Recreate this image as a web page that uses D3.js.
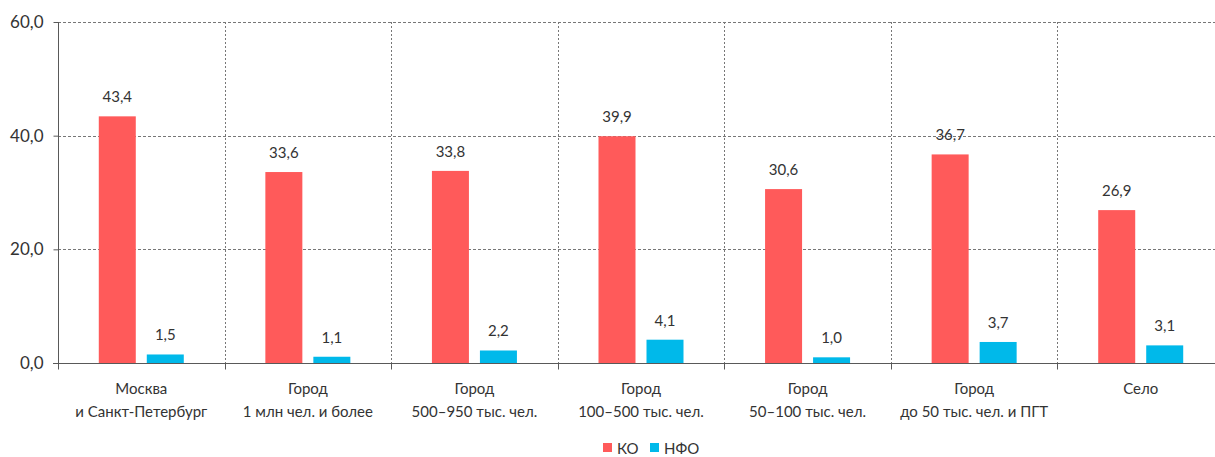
<!DOCTYPE html>
<html>
<head>
<meta charset="utf-8">
<script src="https://cdn.jsdelivr.net/npm/d3@7"></script>
<style>
  body { margin: 0; background: #fff; }
  svg text { font-family: "Lato", "Open Sans", sans-serif; fill: #333; }
</style>
</head>
<body>
<script>
var categories = [
  ["Москва", "и Санкт-Петербург"],
  ["Город", "1 млн чел. и более"],
  ["Город", "500–950 тыс. чел."],
  ["Город", "100–500 тыс. чел."],
  ["Город", "50–100 тыс. чел."],
  ["Город", "до 50 тыс. чел. и ПГТ"],
  ["Село"]
];
var ko  = [43.4, 33.6, 33.8, 39.9, 30.6, 36.7, 26.9];
var nfo = [1.5, 1.1, 2.2, 4.1, 1.0, 3.7, 3.1];
var seriesNames = ["КО", "НФО"];
var colors = ["#ff5a5a", "#00b9ea"];
var yTicks = [0, 20, 40, 60];

var width = 1215,
    height = 457,
    mLeft = 58,
    mRight = 1224,
    mTop = 22,
    mBottom = 363;

var fmt = function(v) { return v.toFixed(1).replace(".", ","); };

var xSc = d3.scaleBand()
  .domain(d3.range(categories.length))
  .range([mLeft, mRight]);

var ySc = d3.scaleLinear()
  .domain([0, 60])
  .range([mBottom, mTop]);

var svg = d3.select("body").append("svg")
  .attr("width", width)
  .attr("height", height);

// horizontal dashed grid
svg.selectAll("line.hgrid")
  .data(yTicks.filter(function(d) { return d > 0; }))
  .enter()
    .append("line")
    .attr("class", "hgrid")
    .attr("x1", mLeft).attr("x2", mRight)
    .attr("y1", function(d) { return Math.round(ySc(d)) + 0.5; })
    .attr("y2", function(d) { return Math.round(ySc(d)) + 0.5; })
    .style("stroke", "#777")
    .style("stroke-width", 1)
    .style("stroke-dasharray", "3,2");

// vertical dashed grid between categories
svg.selectAll("line.vgrid")
  .data(d3.range(1, categories.length))
  .enter()
    .append("line")
    .attr("class", "vgrid")
    .attr("x1", function(i) { return Math.round(xSc(i)) + 0.5; })
    .attr("x2", function(i) { return Math.round(xSc(i)) + 0.5; })
    .attr("y1", mTop).attr("y2", mBottom)
    .style("stroke", "#777")
    .style("stroke-width", 1)
    .style("stroke-dasharray", "2,2");

// bars
var bw = 37, gap = 11;
var series = [ko, nfo];
series.forEach(function(vals, s) {
  svg.selectAll("rect.s" + s)
    .data(vals)
    .enter()
      .append("rect")
      .attr("class", "s" + s)
      .attr("x", function(d, i) {
        var c = xSc(i) + xSc.bandwidth() / 2;
        return s === 0 ? c - gap / 2 - bw : c + gap / 2;
      })
      .attr("y", function(d) { return ySc(d); })
      .attr("width", bw)
      .attr("height", function(d) { return mBottom - ySc(d); })
      .style("fill", colors[s]);

  svg.selectAll("text.l" + s)
    .data(vals)
    .enter()
      .append("text")
      .attr("class", "l" + s)
      .attr("x", function(d, i) {
        var c = xSc(i) + xSc.bandwidth() / 2;
        return s === 0 ? c - gap / 2 - bw / 2 : c + gap / 2 + bw / 2;
      })
      .attr("y", function(d) { return ySc(d) - 14; })
      .attr("text-anchor", "middle")
      .style("font-size", "15px")
      .text(function(d) { return fmt(d); });
});

// y axis
var yAxis = d3.axisLeft(ySc)
  .tickValues(yTicks)
  .tickSize(5)
  .tickPadding(10)
  .tickFormat(fmt);

var gy = svg.append("g")
  .attr("transform", "translate(" + (mLeft + 0.5) + ",0)")
  .call(yAxis);
gy.selectAll("path, line").style("stroke", "#595959");
gy.selectAll("text").style("font-size", "17px").style("fill", "#333").style("font-family", "Lato, sans-serif");
gy.select(".domain").attr("d", "M0," + mTop + "V" + mBottom);

// x axis
var gx = svg.append("g")
  .attr("transform", "translate(0," + (mBottom + 0.5) + ")");
gx.append("line")
  .attr("x1", mLeft - 5).attr("x2", mRight)
  .style("stroke", "#595959");
gx.selectAll("line.tick")
  .data(d3.range(0, categories.length + 1))
  .enter()
    .append("line")
    .attr("class", "tick")
    .attr("x1", function(i) { return Math.round(mLeft + i * xSc.bandwidth()) + 0.5; })
    .attr("x2", function(i) { return Math.round(mLeft + i * xSc.bandwidth()) + 0.5; })
    .attr("y1", 0).attr("y2", 6)
    .style("stroke", "#595959");

var lbl = gx.selectAll("text.cat")
  .data(categories)
  .enter()
    .append("text")
    .attr("class", "cat")
    .attr("text-anchor", "middle")
    .attr("x", function(d, i) { return xSc(i) + xSc.bandwidth() / 2; })
    .attr("y", 30)
    .style("font-size", "15px");
lbl.selectAll("tspan")
  .data(function(d) { return d; })
  .enter()
    .append("tspan")
    .attr("x", function() { return d3.select(this.parentNode).attr("x"); })
    .attr("dy", function(d, j) { return j === 0 ? 0 : 23; })
    .text(function(d) { return d; });

// legend
var leg = svg.selectAll("g.leg")
  .data(seriesNames)
  .enter()
    .append("g")
    .attr("class", "leg")
    .attr("transform", function(d, i) { return "translate(" + (603 + i * 47) + ",443)"; });
leg.append("rect")
  .attr("width", 9).attr("height", 9)
  .style("fill", function(d, i) { return colors[i]; });
leg.append("text")
  .attr("x", 14)
  .attr("y", 11)
  .style("font-size", "15px")
  .text(function(d) { return d; });
</script>
</body>
</html>
